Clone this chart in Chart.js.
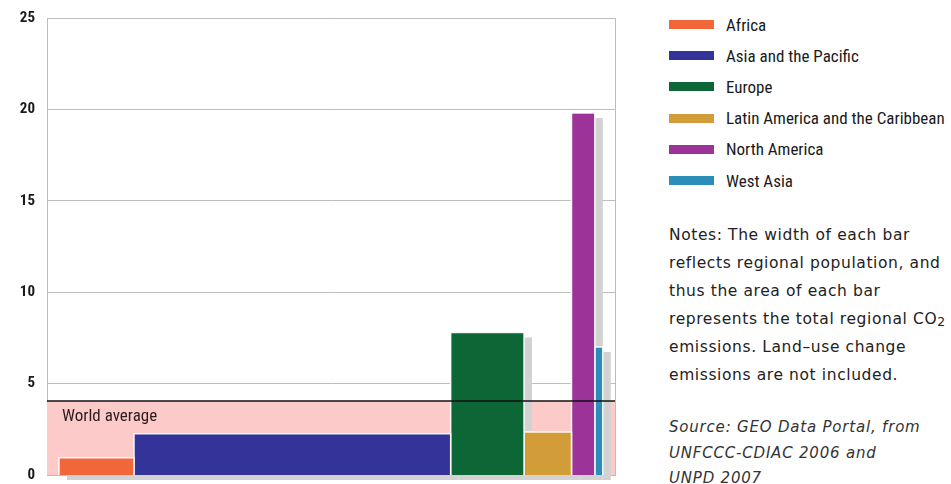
<!DOCTYPE html>
<html>
<head>
<meta charset="utf-8">
<title>CO2 emissions per capita by region</title>
<script src="https://cdn.jsdelivr.net/npm/chart.js@4.4.1/dist/chart.umd.min.js"></script>
<style>
  html, body { margin: 0; padding: 0; background: #fff; width: 951px; height: 484px; overflow: hidden; }
  #wrap { position: relative; width: 951px; height: 484px; }
  #chart-box { position: absolute; left: 0; top: 0; width: 625px; height: 484px; }
  .narrow { font-family: 'Roboto Condensed', 'Liberation Sans Narrow', sans-serif; }
  #avg-label { position: absolute; left: 62px; top: 405px; font-size: 17px; color: #2b1b1b; }
  #legend { position: absolute; left: 669px; top: 9px; }
  .leg-row { height: 31.2px; display: flex; align-items: center; font-size: 17px; color: #1a1a1a; white-space: nowrap; }
  .swatch { width: 45px; height: 9px; margin-right: 12px; flex: none; }
  #notes { position: absolute; left: 669px; top: 221px; font-family: 'DejaVu Sans', sans-serif; font-size: 15.5px; line-height: 28px; color: #222; white-space: nowrap; letter-spacing: 0.6px; }
  #source { position: absolute; left: 669px; top: 415px; font-family: 'DejaVu Sans', sans-serif; font-style: italic; font-size: 15px; line-height: 25.5px; color: #333; white-space: nowrap; letter-spacing: 0.8px; }
  sub { font-size: 0.8em; vertical-align: -2px; line-height: 0; }
</style>
</head>
<body>
<div id="wrap">
  <div id="chart-box"><canvas id="co2-chart"></canvas></div>
  <div id="avg-label" class="narrow">World average</div>
  <div id="legend" class="narrow"></div>
  <div id="notes">Notes: The width of each bar<br>reflects regional population, and<br>thus the area of each bar<br>represents the total regional CO<sub>2</sub><br>emissions. Land–use change<br>emissions are not included.</div>
  <div id="source">Source: GEO Data Portal, from<br>UNFCCC-CDIAC 2006 and<br>UNPD 2007</div>
</div>
<script>
// CO2 per capita (tonnes) by region, bar width = population

const regions = ['Africa', 'Asia and the Pacific', 'Europe', 'Latin America and the Caribbean', 'North America', 'West Asia'];
const regionColors = ['#f2673a', '#333399', '#0d6636', '#d29c38', '#9b3399', '#2b8db8'];
const co2PerCapita = [0.95, 2.25, 7.8, 2.35, 19.8, 7.0];
const population = [900, 3800, 880, 570, 280, 95]; // millions
const worldAverage = 4.05;
const yTicks = [0, 5, 10, 15, 20, 25];

const X_START = 144;   // empty gap before the first bar
const X_MAX = 6816;

// legend
const legendEl = document.getElementById('legend');
regions.forEach((name, i) => {
  const row = document.createElement('div');
  row.className = 'leg-row';
  row.innerHTML = `<span class="swatch" style="background:${regionColors[i]}"></span>${name}`;
  legendEl.appendChild(row);
});

// one step-shaped filled line per region
let cursor = X_START;
const regionSets = regions.map((name, i) => {
  const x0 = cursor;
  const x1 = cursor + population[i];
  cursor = x1;
  return {
    label: name,
    data: [{ x: x0, y: 0 }, { x: x0, y: co2PerCapita[i] }, { x: x1, y: co2PerCapita[i] }, { x: x1, y: 0 }],
    backgroundColor: regionColors[i],
    borderColor: 'rgba(255,255,255,0.9)',
    borderWidth: 1.5,
    fill: 'origin',
    pointRadius: 0,
    tension: 0,
    order: 2,
    shadow: true
  };
});

const bandSet = {
  label: 'World average band',
  data: [{ x: 0, y: worldAverage }, { x: X_MAX, y: worldAverage }],
  backgroundColor: '#fdcaca',
  borderWidth: 0,
  fill: 'origin',
  pointRadius: 0,
  order: 3,
  isBand: true
};

const avgLineSet = {
  label: 'World average',
  data: [{ x: 0, y: worldAverage }, { x: X_MAX, y: worldAverage }],
  borderColor: '#111',
  borderWidth: 1.5,
  fill: false,
  pointRadius: 0,
  order: 1,
  clip: { left: 0, top: 0, right: 3, bottom: 0 }
};

// grey drop shadows, painted right after the pink band so bars sit on top
const barShadow = {
  id: 'barShadow',
  afterDatasetDraw(chart, args) {
    if (!chart.data.datasets[args.index].isBand) return;
    const ctx = chart.ctx;
    const base = chart.scales.y.getPixelForValue(0);
    ctx.save();
    ctx.fillStyle = '#d2d2d2';
    chart.data.datasets.forEach((ds, i) => {
      if (!ds.shadow) return;
      const pts = chart.getDatasetMeta(i).data;
      const left = pts[0].x, right = pts[3].x, top = pts[1].y;
      ctx.fillRect(left + 8, top + 5, right - left, base - top);
    });
    ctx.restore();
  }
};

const gridGrey = '#bdbdbd';

new Chart(document.getElementById('co2-chart'), {
  type: 'line',
  data: { datasets: [bandSet, ...regionSets, avgLineSet] },
  plugins: [barShadow],
  options: {
    responsive: true,
    maintainAspectRatio: false,
    animation: false,
    events: [],
    layout: { padding: { top: 18, right: 10, bottom: 9, left: 0 } },
    scales: {
      x: {
        type: 'linear',
        min: 0,
        max: X_MAX,
        afterBuildTicks: s => { s.ticks = [{ value: 0 }, { value: X_MAX }]; },
        afterFit: s => { s.height = 0; s.paddingLeft = 0; s.paddingRight = 0; },
        ticks: { display: false },
        grid: {
          drawTicks: false,
          color: c => (c.tick && c.tick.value === X_MAX ? gridGrey : 'transparent')
        },
        border: { display: true, color: gridGrey }
      },
      y: {
        min: 0,
        max: 25,
        afterBuildTicks: s => { s.ticks = yTicks.map(v => ({ value: v })); },
        afterFit: s => { s.width = 47; s.paddingTop = 0; s.paddingBottom = 0; },
        ticks: {
          padding: 12,
          color: '#1a1a1a',
          font: { family: "'Roboto Condensed', sans-serif", size: 15, weight: 'bold' }
        },
        grid: { color: gridGrey, drawTicks: false, lineWidth: 1 },
        border: { display: true, color: gridGrey }
      }
    },
    plugins: {
      legend: { display: false },
      tooltip: { enabled: false }
    }
  }
});
</script>
</body>
</html>
